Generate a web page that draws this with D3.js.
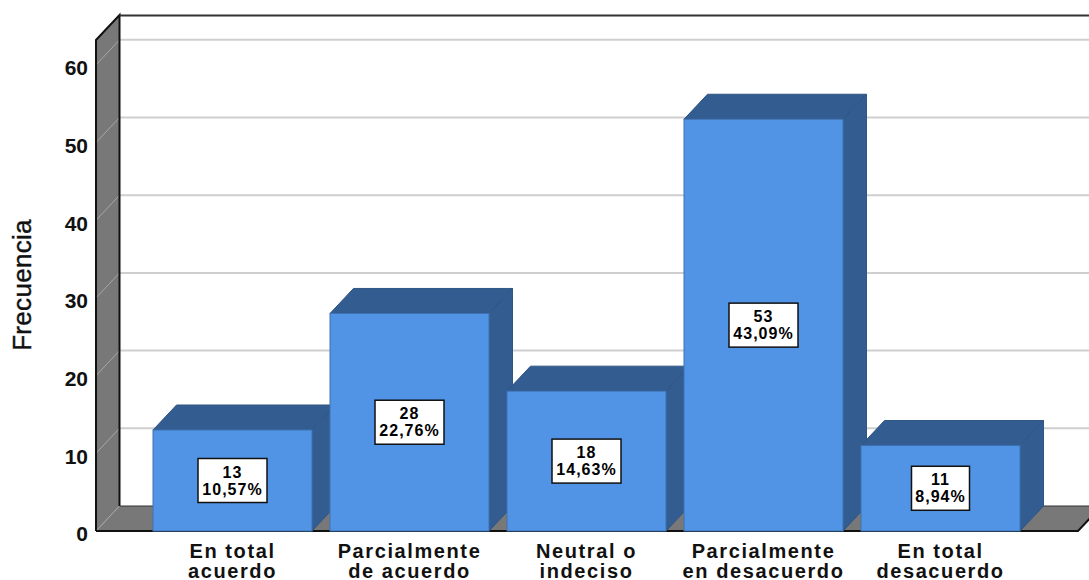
<!DOCTYPE html>
<html>
<head>
<meta charset="utf-8">
<script src="https://cdn.jsdelivr.net/npm/d3@7"></script>
<style>
body { margin: 0; background: #fff; }
svg { display: block; }
text { font-family: "Liberation Sans", Arial, sans-serif; fill: #111; }
</style>
</head>
<body>
<svg id="chart" width="1089" height="580"></svg>
<script>
var categories = ["En total acuerdo", "Parcialmente de acuerdo", "Neutral o indeciso", "Parcialmente en desacuerdo", "En total desacuerdo"];
var catLines = [["En total", "acuerdo"], ["Parcialmente", "de acuerdo"], ["Neutral o", "indeciso"], ["Parcialmente", "en desacuerdo"], ["En total", "desacuerdo"]];
var frecuencia = [13, 28, 18, 53, 11];
var porcentaje = ["10,57%", "22,76%", "14,63%", "43,09%", "8,94%"];
var yTicks = [0, 10, 20, 30, 40, 50, 60];
var yTitle = "Frecuencia";

var svg = d3.select("#chart"),
    dx = 23.5, dy = -25,
    left = 96, right = 1078,
    bottom = 531;

var x = d3.scaleBand()
    .domain(categories)
    .range([144, 1029])
    .paddingInner(18 / 177)
    .paddingOuter(9 / 177);

var y = d3.scaleLinear()
    .domain([0, 63.2])
    .range([bottom, 40]);

var top0 = y(63.2);

function poly(pts) { return pts.map(function(p) { return p.join(","); }).join(" "); }

// left wall and floor
svg.append("polygon")
    .attr("points", poly([[left, bottom], [left, top0], [left + dx, top0 + dy], [left + dx, bottom + dy]]))
    .attr("fill", "#787878");
svg.append("polygon")
    .attr("points", poly([[left, bottom], [left + dx, bottom + dy], [right + dx, bottom + dy], [right, bottom]]))
    .attr("fill", "#787878");

// grid on back wall and across the left wall
var grid = svg.append("g").selectAll("g").data(yTicks.slice(1)).enter().append("g");
grid.append("line")
    .attr("x1", left + dx).attr("x2", 1089)
    .attr("y1", function(d) { return y(d) + dy; })
    .attr("y2", function(d) { return y(d) + dy; })
    .attr("stroke", "#cfcfcf").attr("stroke-width", 2);
grid.append("line")
    .attr("x1", left).attr("x2", left + dx)
    .attr("y1", function(d) { return y(d); })
    .attr("y2", function(d) { return y(d) + dy; })
    .attr("stroke", "#a8a8a8").attr("stroke-width", 1);
svg.append("line")
    .attr("x1", left).attr("x2", left + dx)
    .attr("y1", bottom).attr("y2", bottom + dy)
    .attr("stroke", "#a8a8a8").attr("stroke-width", 1);

// outlines
svg.append("path")
    .attr("d", "M" + left + "," + bottom + "V" + top0 + "L" + (left + dx) + "," + (top0 + dy) + "V" + (bottom + dy))
    .attr("fill", "none").attr("stroke", "#111").attr("stroke-width", 2);
svg.append("line")
    .attr("x1", left + dx).attr("x2", 1089)
    .attr("y1", top0 + dy + 0.5).attr("y2", top0 + dy + 0.5)
    .attr("stroke", "#333").attr("stroke-width", 2);
svg.append("line")
    .attr("x1", left + dx).attr("x2", 1089)
    .attr("y1", bottom + dy).attr("y2", bottom + dy)
    .attr("stroke", "#333").attr("stroke-width", 1);
svg.append("path")
    .attr("d", "M" + left + "," + bottom + "H" + right + "L" + (right + dx) + "," + (bottom + dy))
    .attr("fill", "none").attr("stroke", "#111").attr("stroke-width", 2);

// bars
var bars = svg.append("g").selectAll("g").data(categories).enter().append("g");
var w = x.bandwidth();
bars.append("polygon")
    .attr("points", function(d, i) {
        var x0 = x(d), t = y(frecuencia[i]);
        return poly([[x0, t], [x0 + dx, t + dy], [x0 + w + dx, t + dy], [x0 + w, t]]);
    })
    .attr("fill", "#335c90").attr("stroke", "#2f5585").attr("stroke-width", 1);
bars.append("polygon")
    .attr("points", function(d, i) {
        var x0 = x(d) + w, t = y(frecuencia[i]);
        return poly([[x0, t], [x0 + dx, t + dy], [x0 + dx, bottom + dy], [x0, bottom]]);
    })
    .attr("fill", "#335c90").attr("stroke", "#2f5585").attr("stroke-width", 1);
bars.append("rect")
    .attr("x", function(d) { return x(d); })
    .attr("y", function(d, i) { return y(frecuencia[i]); })
    .attr("width", w)
    .attr("height", function(d, i) { return bottom - y(frecuencia[i]); })
    .attr("fill", "#5193e5").attr("stroke", "#3f72b0").attr("stroke-width", 1);

// value labels
bars.each(function(d, i) {
    var g = d3.select(this),
        cx = x(d) + w / 2,
        cy = (y(frecuencia[i]) + bottom) / 2,
        bw = porcentaje[i].length > 5 ? 69 : 58;
    g.append("rect")
        .attr("x", cx - bw / 2).attr("y", cy - 22)
        .attr("width", bw).attr("height", 44)
        .attr("fill", "#fff").attr("stroke", "#111").attr("stroke-width", 1.5);
    [frecuencia[i], porcentaje[i]].forEach(function(s, k) {
        g.append("text")
            .attr("x", cx).attr("y", cy - 3 + k * 17)
            .attr("text-anchor", "middle")
            .attr("font-size", 16).attr("font-weight", "bold")
            .attr("letter-spacing", 1)
            .style("fill", "#000")
            .text(s);
    });
});

// y axis
var yAxis = d3.axisLeft(y).tickValues(yTicks).tickSize(0).tickPadding(8);
var gy = svg.append("g")
    .attr("transform", "translate(" + left + ",0)")
    .call(yAxis);
gy.select(".domain").remove();
gy.selectAll(".tick text")
    .attr("dy", "0.47em")
    .attr("font-size", 21).attr("font-weight", "bold")
    .attr("font-family", "Liberation Sans");

svg.append("text")
    .attr("transform", "translate(31,285) rotate(-90)")
    .attr("text-anchor", "middle")
    .attr("font-size", 26)
    .attr("letter-spacing", 0.3)
    .attr("stroke", "#111").attr("stroke-width", 0.4)
    .text(yTitle);

// category labels
var xAxis = d3.axisBottom(x).tickSize(0).tickFormat("");
var gx = svg.append("g").attr("transform", "translate(0," + bottom + ")").call(xAxis);
gx.select(".domain").remove();
gx.selectAll(".tick").each(function(d, i) {
    var t = d3.select(this).select("text").text(null).attr("y", null).attr("dy", null);
    catLines[i].forEach(function(s, k) {
        t.append("tspan")
            .attr("x", 0).attr("y", 27 + k * 20)
            .attr("font-size", 20).attr("font-weight", "bold")
            .attr("letter-spacing", 1.6)
            .attr("font-family", "Liberation Sans")
            .attr("fill", "#111")
            .text(s);
    });
});
</script>
</body>
</html>
